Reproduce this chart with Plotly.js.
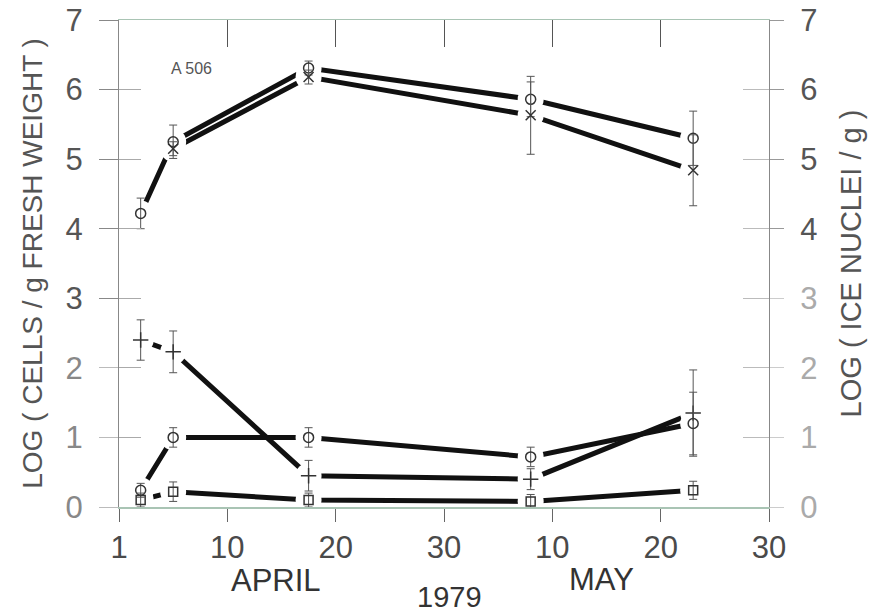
<!DOCTYPE html>
<html>
<head>
<meta charset="utf-8">
<script src="https://cdn.plot.ly/plotly-3.0.1.min.js"></script>
<style>
  html, body { margin: 0; padding: 0; background: #fff; }
  #chart { width: 881px; height: 612px; }
</style>
</head>
<body>
<div id="chart"></div>
<script>
// ---- data ----
// x = day counted from 31 March 1979 (1 April = 1, 1 May = 31)
const daysAll = [2, 5, 17.5, 38, 53];
const daysCross = [5, 17.5, 38, 53];

const xTickVals = [0, 10, 20, 30, 40, 50, 60];
const xTickText = ['1', '10', '20', '30', '10', '20', '30'];
const yTickVals = [0, 1, 2, 3, 4, 5, 6, 7];
const yTickUpper = [3, 4, 5, 6, 7];
const yTickLower = [0, 1, 2];
const yTickRightUpper = [4, 5, 6, 7];
const yTickRightLower = [0, 1, 2, 3];

// upper pair
const circleTop = [4.22, 5.25, 6.31, 5.86, 5.30];
const circleTopErr = [0.22, 0.24, 0.10, 0.25, 0.39];
const crossTop = [5.15, 6.18, 5.63, 4.84];
const crossTopErr = [0.10, 0.10, 0.56, 0.51];

// lower three
const seriesA = [2.40, 2.23, 0.45, 0.40, 1.35];
const seriesAErr = [0.29, 0.30, 0.22, 0.15, 0.62];
const seriesB = [0.24, 1.00, 1.00, 0.72, 1.20];
const seriesBErr = [0.10, 0.14, 0.14, 0.14, 0.45];
const seriesC = [0.10, 0.22, 0.10, 0.08, 0.24];
const seriesCErr = [0.10, 0.14, 0.10, 0.10, 0.13];

const labelText = 'A 506';

// ---- styling ----
const FONT = 'Liberation Sans, Arial, Helvetica, sans-serif';
const INK = '#111';

const groups = [
  {x: daysAll,   y: circleTop, e: circleTopErr, sym: 'circle-open', size: 10},
  {x: daysCross, y: crossTop,  e: crossTopErr,  sym: 'x-thin-open', size: 10},
  {x: daysAll,   y: seriesA,   e: seriesAErr,   sym: 'cross-thin-open', size: 11},
  {x: daysAll,   y: seriesB,   e: seriesBErr,   sym: 'circle-open', size: 10},
  {x: daysAll,   y: seriesC,   e: seriesCErr,   sym: 'square-open', size: 9}
];

const traces = [];
// thick connecting lines
groups.forEach(g => traces.push({
  x: g.x, y: g.y, type: 'scatter', mode: 'lines',
  line: {color: INK, width: 5}, hoverinfo: 'skip', showlegend: false
}));
// white halos that leave a gap in the lines around each point
groups.forEach(g => traces.push({
  x: g.x, y: g.y, type: 'scatter', mode: 'markers',
  marker: {symbol: 'circle', size: 26, color: 'rgb(255,255,255)', opacity: 1,
           line: {width: 0, color: 'rgb(255,255,255)'}},
  hoverinfo: 'skip', showlegend: false
}));
// symbols with error bars
groups.forEach(g => traces.push({
  x: g.x, y: g.y, type: 'scatter', mode: 'markers',
  marker: {symbol: g.sym, size: g.size, color: '#333', line: {color: '#333', width: 1.5}},
  error_y: {type: 'data', array: g.e, visible: true, color: '#555', thickness: 1, width: 4},
  showlegend: false
}));
// hidden traces to activate the extra axes
['y3', 'y2', 'y4', 'y5', 'y6'].forEach(ya => traces.push({
  x: [0], y: [0], xaxis: ya === 'y3' ? 'x2' : 'x', yaxis: ya, mode: 'markers',
  marker: {opacity: 0}, hoverinfo: 'skip', showlegend: false
}));

const xRange = [0, 60];
const yRange = [0, 7];

const layout = {
  width: 881, height: 612,
  margin: {l: 119, r: 112, t: 20, b: 105},
  paper_bgcolor: '#fff', plot_bgcolor: '#fff',
  font: {family: FONT, color: '#555'},
  showlegend: false,
  xaxis: {
    range: xRange, tickvals: xTickVals, ticktext: xTickText,
    ticks: 'outside', ticklen: 13, tickcolor: '#666', tickwidth: 1,
    ticklabelstandoff: -1,
    showline: true, linecolor: '#a9c4b4', linewidth: 1.5,
    showgrid: false, zeroline: false,
    tickfont: {size: 31, color: '#4a4a4a', family: FONT}
  },
  xaxis2: {
    overlaying: 'x', side: 'top', range: xRange, tickvals: [10, 20, 30, 40, 50],
    ticks: 'inside', ticklen: 27, tickcolor: '#555', tickwidth: 1,
    showticklabels: false, showline: true, linecolor: '#a9c4b4', linewidth: 1.5,
    showgrid: false, zeroline: false
  },
  yaxis: {
    range: yRange, tickvals: yTickUpper,
    ticks: 'outside', ticklen: 19, tickcolor: '#888', tickwidth: 1,
    ticklabelstandoff: 10,
    showline: true, linecolor: '#888', linewidth: 1,
    showgrid: false, zeroline: false,
    tickfont: {size: 31, color: '#555', family: FONT},
    title: {text: 'LOG ( CELLS / g FRESH WEIGHT )', standoff: 14,
            font: {size: 28, color: '#555', family: FONT}}
  },
  yaxis6: {
    overlaying: 'y', side: 'left', range: yRange, tickvals: yTickLower,
    ticks: 'outside', ticklen: 19, tickcolor: '#bbb', tickwidth: 1,
    ticklabelstandoff: 10,
    showline: false, showgrid: false, zeroline: false,
    tickfont: {size: 31, color: '#888', family: FONT}
  },
  yaxis3: {
    overlaying: 'y', side: 'left', range: yRange, tickvals: yTickVals,
    ticks: 'inside', ticklen: 22, tickcolor: '#aaa', tickwidth: 1,
    showticklabels: false, showline: false, showgrid: false, zeroline: false
  },
  yaxis2: {
    overlaying: 'y', side: 'right', range: yRange, tickvals: yTickRightUpper,
    ticks: 'outside', ticklen: 14, tickcolor: '#999', tickwidth: 1,
    ticklabelstandoff: 10,
    showline: true, linecolor: '#888', linewidth: 1,
    showgrid: false, zeroline: false,
    tickfont: {size: 31, color: '#555', family: FONT},
    title: {text: 'LOG ( ICE NUCLEI / g )', standoff: 24,
            font: {size: 29, color: '#555', family: FONT}}
  },
  yaxis5: {
    overlaying: 'y', side: 'right', range: yRange, tickvals: yTickRightLower,
    ticks: 'outside', ticklen: 14, tickcolor: '#ccc', tickwidth: 1,
    ticklabelstandoff: 10,
    showline: false, showgrid: false, zeroline: false,
    tickfont: {size: 31, color: '#aaa', family: FONT}
  },
  yaxis4: {
    overlaying: 'y', side: 'right', range: yRange, tickvals: yTickVals,
    ticks: 'inside', ticklen: 26, tickcolor: '#bbb', tickwidth: 1,
    showticklabels: false, showline: false, showgrid: false, zeroline: false
  },
  annotations: [
    {x: 6.7, y: 6.31, xref: 'x', yref: 'y', text: labelText, showarrow: false,
     font: {size: 16, color: '#555', family: FONT}},
    {x: 14.5, xref: 'x', y: 0, yref: 'paper', yanchor: 'middle', yshift: -73,
     text: 'APRIL', showarrow: false, font: {size: 31, color: '#333', family: FONT}},
    {x: 44.5, xref: 'x', y: 0, yref: 'paper', yanchor: 'middle', yshift: -72,
     text: 'MAY', showarrow: false, font: {size: 31, color: '#333', family: FONT}},
    {x: 30.5, xref: 'x', y: 0, yref: 'paper', yanchor: 'middle', yshift: -90,
     text: '1979', showarrow: false, font: {size: 29, color: '#333', family: FONT}}
  ]
};

Plotly.newPlot('chart', traces, layout, {displayModeBar: false, staticPlot: true});
</script>
</body>
</html>
